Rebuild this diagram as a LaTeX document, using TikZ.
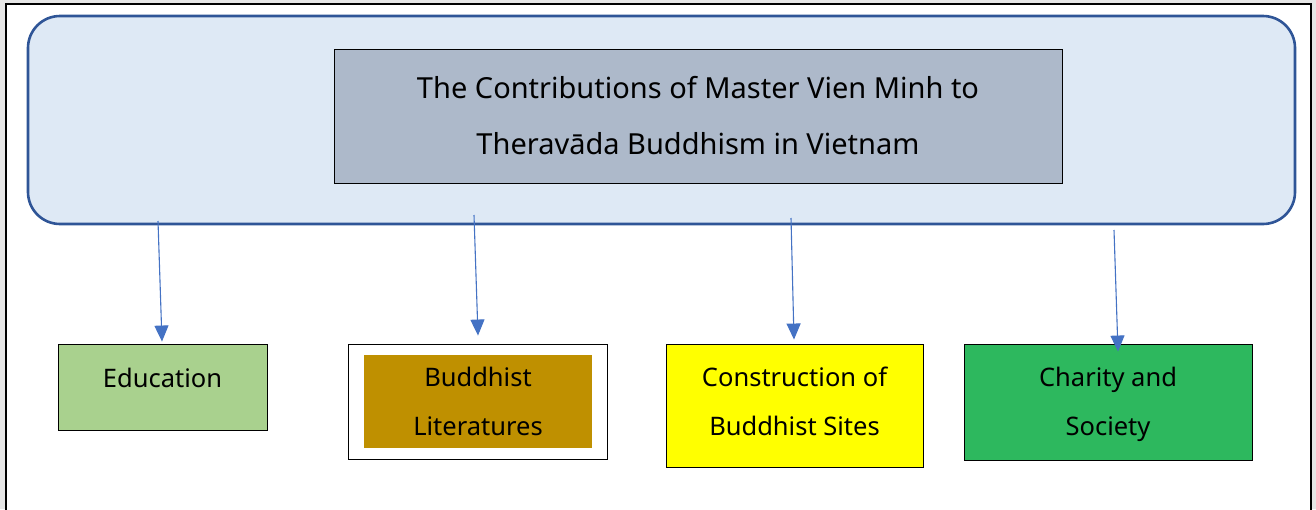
\documentclass[tikz,border=0pt]{standalone}
\usepackage{fontspec}
\setmainfont{Noto Sans}
\usetikzlibrary{arrows.meta,calc}
\definecolor{framegray}{HTML}{E6E6E6}
\definecolor{panelfill}{HTML}{DEE9F5}
\definecolor{panelline}{HTML}{2F5597}
\definecolor{titlefill}{HTML}{ADB9CA}
\definecolor{edufill}{HTML}{A9D18E}
\definecolor{litfill}{HTML}{BF9000}
\definecolor{sitefill}{HTML}{FFFF00}
\definecolor{charityfill}{HTML}{2DB85E}
\definecolor{arrowblue}{HTML}{4472C4}
\tikzset{
  boxtext/.style={font=\fontsize{25.5}{49}\selectfont, align=center, text=black},
  catbox/.style={draw=black, line width=0.9pt, boxtext, inner sep=0pt},
  flow/.style={draw=arrowblue, line width=1.1pt, -{Triangle[width=14pt,length=16pt]}},
}
\begin{document}
\begin{tikzpicture}[x=1pt,y=-1pt]
  \useasboundingbox (0,0) rectangle (1316,509);
  % page surround and frame
  \fill[framegray] (0,0) rectangle (1316,509);
  \fill[white] (6,4) rectangle (1311,512);
  \draw[black, line width=1.3pt] (6,512) -- (6,4) -- (1311,4) -- (1311,512);

  % rounded header panel
  \node[draw=panelline, fill=panelfill, line width=2.6pt, rounded corners=32pt,
        minimum width=1267pt, minimum height=208pt, inner sep=0pt] (panel) at (661.5,120) {};

  % title box
  \node[catbox, fill=titlefill, minimum width=728pt, minimum height=134pt,
        font=\fontsize{29}{56}\selectfont] (title) at (698,116)
        {The Contributions of Master Vien Minh to\\Theravāda Buddhism in Vietnam};

  % category boxes
  \node[catbox, fill=edufill, minimum width=209pt, minimum height=86pt, text depth=19pt] (edu) at (162.5,387) {Education};
  \node[draw=black, line width=0.9pt, fill=white, minimum width=259pt, minimum height=115pt, inner sep=0pt] (litframe) at (477.5,401.5) {};
  \node[catbox, draw=none, fill=litfill, minimum width=228pt, minimum height=93pt] (lit) at (478,401.5) {Buddhist\\Literatures};
  \node[catbox, fill=sitefill, minimum width=257pt, minimum height=123pt, text depth=8pt] (sites) at (794.5,405.5) {Construction of\\Buddhist Sites};
  \node[catbox, fill=charityfill, minimum width=288pt, minimum height=116pt, text depth=1pt] (charity) at (1108,402) {Charity and\\Society};

  % connector start and end points
  \coordinate (s1) at (158,221);
  \coordinate (s2) at (474,215);
  \coordinate (s3) at (791,218);
  \coordinate (s4) at (1114,230);
  \coordinate (e1) at ($(edu.north)+(-0.5,-2)$);
  \coordinate (e2) at ($(litframe.north)+(0.5,-8)$);
  \coordinate (e3) at ($(sites.north)+(-0.5,-4)$);
  \coordinate (e4) at ($(charity.north)+(10,8)$);

  \draw[flow] (s1) -- (e1);
  \draw[flow] (s2) -- (e2);
  \draw[flow] (s3) -- (e3);
  \draw[flow] (s4) -- (e4);
\end{tikzpicture}
\end{document}
